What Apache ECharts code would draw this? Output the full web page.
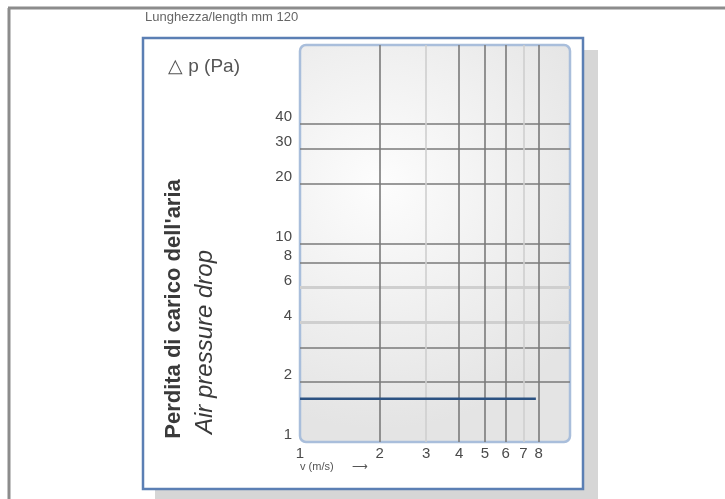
<!DOCTYPE html>
<html>
<head>
<meta charset="utf-8">
<script src="https://cdn.jsdelivr.net/npm/echarts@6/dist/echarts.min.js"></script>
<style>
html,body{margin:0;padding:0;background:#fff;}
#chart{width:725px;height:499px;}
</style>
</head>
<body>
<div id="chart"></div>
<script>
// ---- data ----
const topTitle = 'Lunghezza/length mm 120';
const yAxisTitle = '△ p (Pa)';
const xAxisTitle = 'v (m/s)      ⟶';
const sideTitleIt = "Perdita di carico dell'aria";
const sideTitleEn = 'Air pressure drop';

const yGridValues = [2, 3, 4, 6, 8, 10, 20, 30, 40];
const yLightGrid = [4, 6];
const yLabelValues = [1, 2, 4, 6, 8, 10, 20, 30, 40];
const xGridValues = [2, 3, 4, 5, 6, 7, 8];
const xLightGrid = [3, 7];
const xLabelValues = [1, 2, 3, 4, 5, 6, 7, 8];

const seriesX = [1, 7.8];
const seriesY = [1.65, 1.65];

// ---- build ----
const chart = echarts.init(document.getElementById('chart'), null, {renderer: 'canvas'});

const dark = {color: '#7a7a7a', width: 1.6, type: 'solid'};
const light = {color: '#cfcfcf', width: 3, type: 'solid'};
const hidden = {color: 'rgba(0,0,0,0)', width: 0};

const gridLines = [];
yGridValues.forEach(v => gridLines.push({
  yAxis: v,
  lineStyle: yLightGrid.includes(v) ? light : dark,
  label: {show: false}
}));
xGridValues.forEach(v => gridLines.push({
  xAxis: v,
  lineStyle: xLightGrid.includes(v) ? {color: '#cfcfcf', width: 1.6, type: 'solid'} : dark,
  label: {show: false}
}));

const labelFont = {fontFamily: 'Liberation Sans, Arial, sans-serif', fontSize: 15, color: '#4a4a4a'};
const labelLines = [];
yLabelValues.forEach(v => labelLines.push({
  yAxis: v,
  lineStyle: hidden,
  label: Object.assign({show: true, position: 'start', distance: 8, formatter: String(v), offset: [0, -7]}, labelFont)
}));
xLabelValues.forEach(v => labelLines.push({
  xAxis: v,
  lineStyle: hidden,
  label: Object.assign({show: true, position: 'start', distance: 4, formatter: String(v)}, labelFont)
}));

const plot = {x: 300, y: 45, w: 270, h: 397};

const option = {
  animation: false,
  backgroundColor: '#ffffff',
  grid: {left: plot.x, top: plot.y, width: plot.w, height: plot.h, show: false},
  xAxis: {
    type: 'log', logBase: 10, min: 1, max: 10.5,
    axisLine: {show: false}, axisTick: {show: false}, axisLabel: {show: false}, splitLine: {show: false}
  },
  yAxis: {
    type: 'log', logBase: 10, min: 1, max: 100,
    axisLine: {show: false}, axisTick: {show: false}, axisLabel: {show: false}, splitLine: {show: false}
  },
  graphic: [
    // outer frame (top and left)
    {type: 'line', z: -20, shape: {x1: 8, y1: 8, x2: 725, y2: 8}, style: {stroke: '#8c8c8c', lineWidth: 3}},
    {type: 'line', z: -20, shape: {x1: 9, y1: 8, x2: 9, y2: 499}, style: {stroke: '#8c8c8c', lineWidth: 3}},
    // panel shadow
    {type: 'rect', z: -19, shape: {x: 155, y: 50, width: 443, height: 460}, style: {fill: '#d6d6d6'}},
    // panel
    {type: 'rect', z: -18, shape: {x: 143, y: 38, width: 440, height: 451}, style: {fill: '#ffffff', stroke: '#5b7fb4', lineWidth: 2.5}},
    // plot area background
    {type: 'rect', z: -17, shape: {x: plot.x, y: plot.y, width: plot.w, height: plot.h, r: 6},
      style: {
        fill: {type: 'radial', x: 0.3, y: 0.35, r: 0.9,
          colorStops: [{offset: 0, color: '#fdfdfd'}, {offset: 1, color: '#e4e4e4'}]},
        stroke: '#a9bedb', lineWidth: 2.5
      }},
    // texts
    {type: 'text', x: 145, y: 17, style: {text: topTitle, fill: '#666', fontSize: 13, fontFamily: 'Liberation Sans, Arial, sans-serif', textVerticalAlign: 'middle'}},
    {type: 'text', x: 168, y: 67, style: {text: yAxisTitle, fill: '#555', fontSize: 19, fontFamily: 'Liberation Sans, Arial, sans-serif', textVerticalAlign: 'middle'}},
    {type: 'text', x: 300, y: 467, style: {text: xAxisTitle, fill: '#555', fontSize: 11, fontFamily: 'Liberation Sans, Arial, sans-serif', textVerticalAlign: 'middle'}},
    {type: 'text', x: 174, y: 309, rotation: Math.PI / 2,
      style: {text: sideTitleIt, fill: '#3a3a3a', fontSize: 22, fontWeight: 'bold', fontFamily: 'Liberation Sans, Arial, sans-serif', textAlign: 'center', textVerticalAlign: 'middle'}},
    {type: 'text', x: 205, y: 342, rotation: Math.PI / 2,
      style: {text: sideTitleEn, fill: '#3a3a3a', fontSize: 24, fontStyle: 'italic', fontFamily: 'Liberation Sans, Arial, sans-serif', textAlign: 'center', textVerticalAlign: 'middle'}}
  ],
  series: [
    {
      type: 'line', data: [], silent: true, z: 2,
      markLine: {silent: true, symbol: ['none', 'none'], animation: false, data: gridLines}
    },
    {
      type: 'line', data: [], silent: true, z: 2,
      markLine: {silent: true, symbol: ['none', 'none'], animation: false, data: labelLines}
    },
    {
      type: 'line', z: 5, silent: true, symbol: 'none',
      data: seriesX.map((x, i) => [x, seriesY[i]]),
      lineStyle: {color: '#2c5282', width: 2.5}
    }
  ]
};
chart.setOption(option);
</script>
</body>
</html>
